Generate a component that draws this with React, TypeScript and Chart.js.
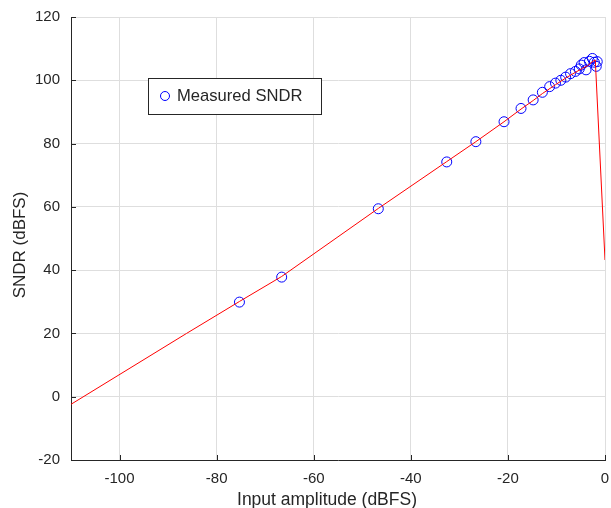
import React, { useEffect, useRef } from "react";
import { Chart, registerables } from "chart.js";

Chart.register(...registerables);

// Measured SNDR points (input amplitude dBFS, SNDR dBFS)
const measuredX = [-75.3, -66.6, -46.7, -32.6, -26.6, -20.8, -17.3, -14.8, -12.9, -11.4, -10.2, -9.1, -8.1, -7.1, -6.1, -5.3, -4.9, -3.9, -4.3, -3.2, -2.6, -2.2, -1.8, -1.6];
const measuredY = [29.9, 37.8, 59.4, 74.2, 80.6, 86.9, 91.1, 93.8, 96.2, 98.0, 99.1, 100.0, 101.0, 102.1, 102.8, 103.6, 104.8, 103.3, 105.6, 106.0, 106.9, 105.7, 104.4, 105.9];

// Simulated SNDR curve (red line)
const simX = [-110, -86.2, -75.3, -66.6, -46.7, -32.6, -26.6, -20.8, -17.3, -14.8, -12.9, -10.2, -8.0, -6.0, -4.6, -3.6, -2.5, -2.0, 0];
const simY = [-2.4, 20.0, 30.1, 38.0, 59.5, 74.3, 80.6, 86.9, 90.9, 93.6, 95.8, 98.6, 100.8, 102.6, 103.8, 104.6, 106.0, 106.4, 43.2];

const xTicks = [-100, -80, -60, -40, -20, 0];
const yTicks = [-20, 0, 20, 40, 60, 80, 100, 120];

const xLabel = "Input amplitude (dBFS)";
const yLabel = "SNDR (dBFS)";
const legendLabel = "Measured SNDR";

const FONT = "'Liberation Sans', Arial, Helvetica, sans-serif";
const TEXT = "#262626";

const inwardTicks = {
  id: "inwardTicks",
  afterDraw(chart: any) {
    const ctx = chart.ctx;
    const { left, bottom } = chart.chartArea;
    const xs = chart.scales.x;
    const ys = chart.scales.y;
    ctx.save();
    ctx.strokeStyle = TEXT;
    ctx.lineWidth = 1;
    ctx.beginPath();
    xs.ticks.forEach((t: any) => {
      const px = Math.round(xs.getPixelForValue(t.value)) + 0.5;
      ctx.moveTo(px, bottom);
      ctx.lineTo(px, bottom - 5);
    });
    ys.ticks.forEach((t: any) => {
      const py = Math.round(ys.getPixelForValue(t.value)) + 0.5;
      ctx.moveTo(left, py);
      ctx.lineTo(left + 5, py);
    });
    ctx.stroke();
    ctx.restore();
  },
};

const axisTitles = {
  id: "axisTitles",
  afterDraw(chart: any) {
    const ctx = chart.ctx;
    ctx.save();
    ctx.fillStyle = TEXT;
    ctx.textAlign = "center";
    ctx.textBaseline = "alphabetic";
    ctx.font = `17.5px ${FONT}`;
    ctx.fillText(xLabel, 327, 505);
    ctx.translate(25, 245);
    ctx.rotate(-Math.PI / 2);
    ctx.font = `17px ${FONT}`;
    ctx.fillText(yLabel, 0, 0);
    ctx.restore();
  },
};

const legendBox = {
  id: "legendBox",
  afterDraw(chart: any) {
    const ctx = chart.ctx;
    ctx.save();
    ctx.fillStyle = "#ffffff";
    ctx.fillRect(148.5, 78.5, 173, 36);
    ctx.strokeStyle = TEXT;
    ctx.lineWidth = 1;
    ctx.strokeRect(148.5, 78.5, 173, 36);
    ctx.strokeStyle = "#0000ff";
    ctx.beginPath();
    ctx.arc(165, 96, 4.5, 0, Math.PI * 2);
    ctx.stroke();
    ctx.fillStyle = TEXT;
    ctx.font = `16.6px ${FONT}`;
    ctx.textBaseline = "middle";
    ctx.textAlign = "left";
    ctx.fillText(legendLabel, 177, 96.5);
    ctx.restore();
  },
};

export default function App() {
  const ref = useRef<HTMLCanvasElement | null>(null);
  useEffect(() => {
    if (!ref.current) return;
    const chart = new Chart(ref.current, {
      type: "scatter",
      data: {
        datasets: [
          {
            label: legendLabel,
            data: measuredX.map((x, i) => ({ x, y: measuredY[i] })),
            showLine: false,
            pointRadius: 5,
            pointBorderWidth: 1,
            pointBorderColor: "#0000ff",
            pointBackgroundColor: "rgba(0,0,0,0)",
            order: 2,
          },
          {
            label: "Simulated",
            data: simX.map((x, i) => ({ x, y: simY[i] })),
            showLine: true,
            borderColor: "#ff0000",
            borderWidth: 1,
            pointRadius: 0,
            order: 1,
          },
        ],
      },
      options: {
        animation: false,
        responsive: false,
        layout: { padding: { top: 17, right: 4, left: 0, bottom: 0 } },
        plugins: { legend: { display: false }, tooltip: { enabled: false } },
        scales: {
          x: {
            type: "linear",
            min: -110,
            max: 0,
            afterBuildTicks: (s: any) => {
              s.ticks = xTicks.map((v) => ({ value: v }));
            },
            afterFit: (s: any) => {
              s.height = 48;
              s.paddingLeft = 0;
              s.paddingRight = 0;
            },
            grid: { color: "#dedede", drawTicks: false },
            border: { display: true, color: TEXT },
            ticks: { color: TEXT, font: { family: FONT, size: 15 }, padding: 10, maxRotation: 0 },
            title: { display: false },
          },
          y: {
            type: "linear",
            min: -20,
            max: 120,
            afterBuildTicks: (s: any) => {
              s.ticks = yTicks.map((v) => ({ value: v }));
            },
            afterFit: (s: any) => {
              s.width = 71;
              s.paddingTop = 0;
              s.paddingBottom = 0;
            },
            grid: { color: "#dedede", drawTicks: false },
            border: { display: true, color: TEXT },
            ticks: { color: TEXT, font: { family: FONT, size: 15 }, padding: 11 },
            title: { display: false },
          },
        },
      },
      plugins: [inwardTicks, axisTitles, legendBox],
    });
    return () => chart.destroy();
  }, []);
  return (
    <div style={{ position: "fixed", left: 0, top: 0, width: 611, height: 508, background: "#fff" }}>
      <canvas ref={ref} width={611} height={508} />
    </div>
  );
}
